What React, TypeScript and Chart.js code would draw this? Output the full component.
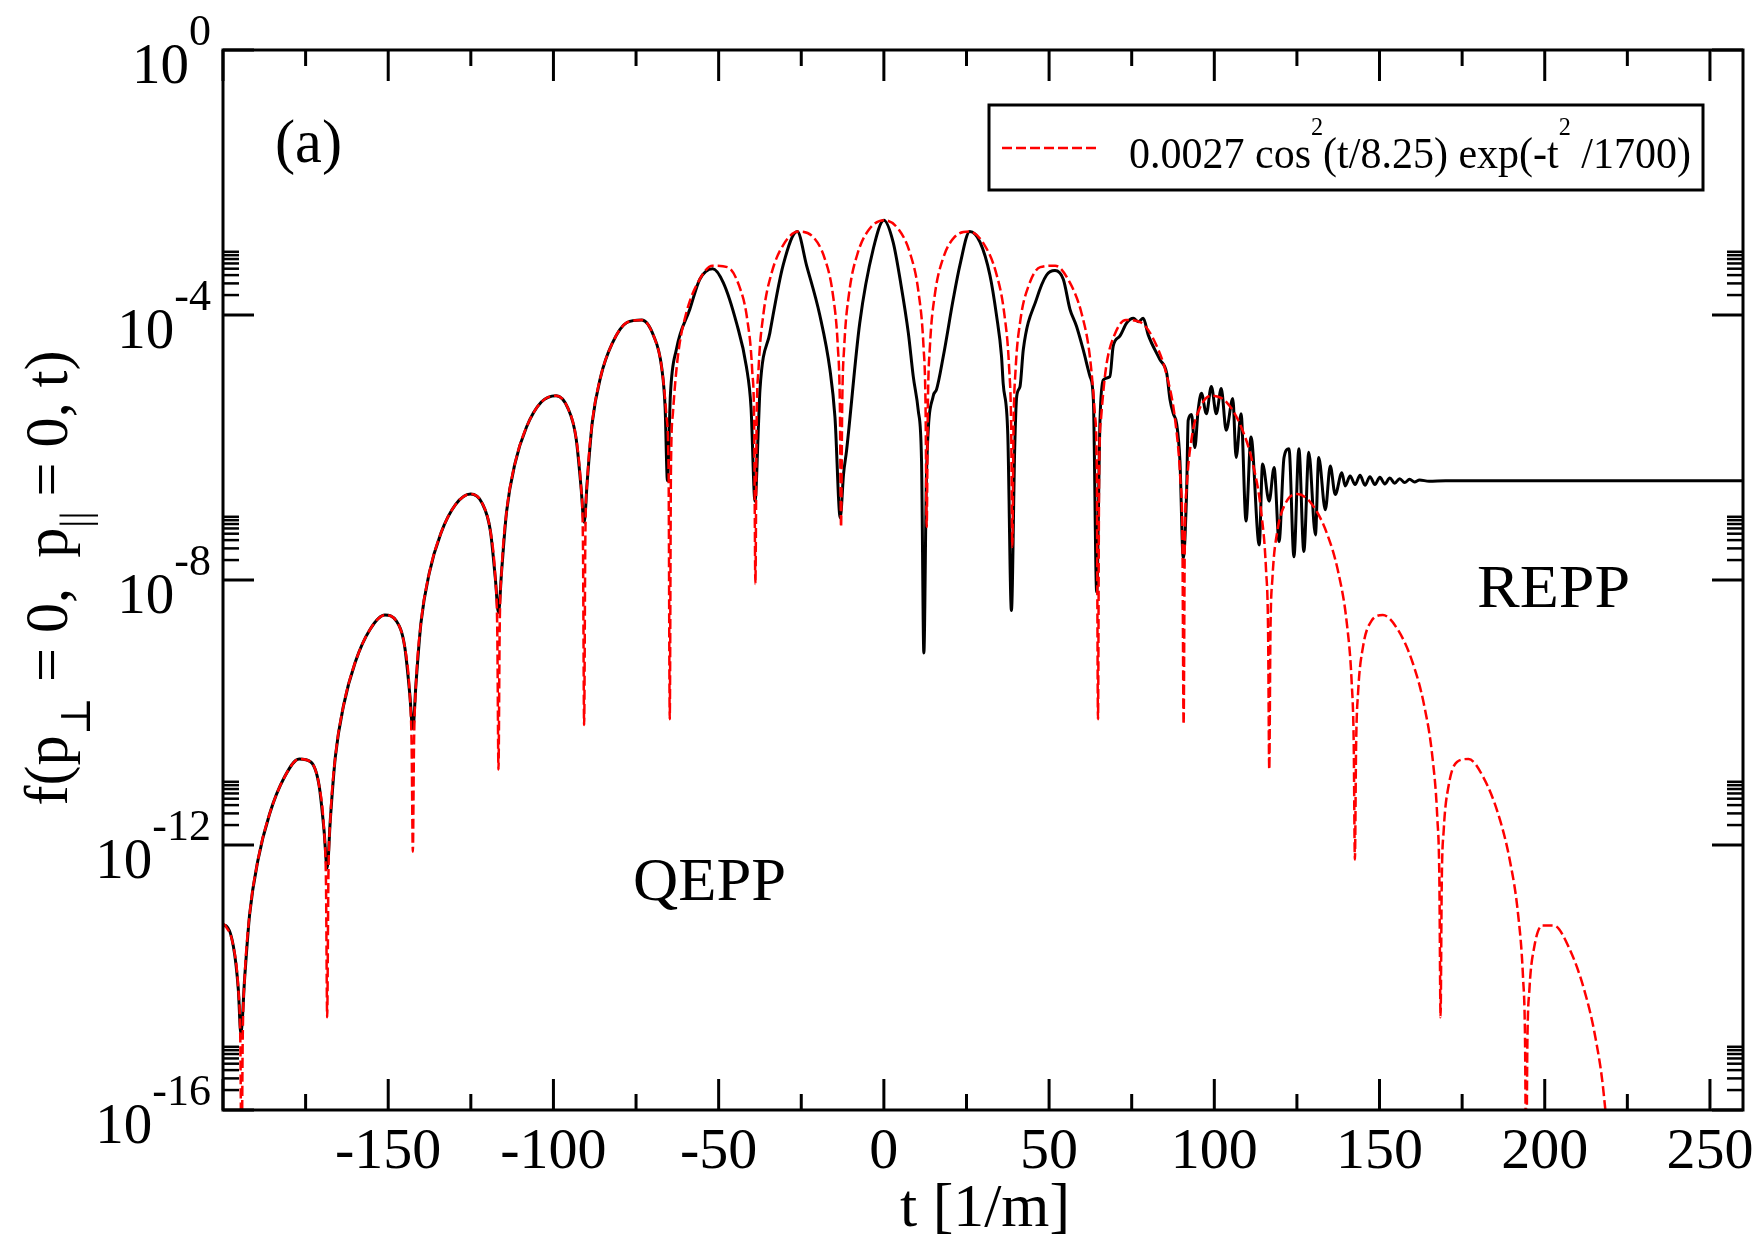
import React, { useEffect, useRef } from 'react';
import { Chart, registerables } from 'chart.js';

Chart.register(...registerables);

// ---- data (t in 1/m, value given as log10 f) ----
// red dashed curve: 0.0027 cos^2(t/8.25) exp(-t^2/1700)
const fitT: number[] = [
  -200, -199.35, -196.85, -195.35, -194.75, -194.39, -194.03, -193.43, -191.93, -189.43,
  -185.93, -181.43, -176.93, -173.43, -170.93, -169.43, -168.83, -168.47, -168.11, -167.51,
  -166.01, -163.51, -160.01, -155.51, -151.01, -147.51, -145.01, -143.51, -142.91, -142.55,
  -142.19, -141.59, -140.09, -137.59, -134.09, -129.59, -125.09, -121.59, -119.09, -117.59,
  -116.99, -116.63, -116.27, -115.67, -114.17, -111.67, -108.17, -103.67, -99.17, -95.67,
  -93.17, -91.67, -91.07, -90.71, -90.35, -89.75, -88.25, -85.75, -82.25, -77.75,
  -73.25, -69.75, -67.25, -65.75, -65.15, -64.8, -64.44, -63.84, -62.34, -59.84,
  -56.34, -51.84, -47.34, -43.84, -41.34, -39.84, -39.24, -38.88, -38.52, -37.92,
  -36.42, -33.92, -30.42, -25.92, -21.42, -17.92, -15.42, -13.92, -13.32, -12.96,
  -12.6, -12, -10.5, -8, -4.5, 0, 4.5, 8, 10.5, 12,
  12.6, 12.96, 13.32, 13.92, 15.42, 17.92, 21.42, 25.92, 30.42, 33.92,
  36.42, 37.92, 38.52, 38.88, 39.24, 39.84, 41.34, 43.84, 47.34, 51.84,
  56.34, 59.84, 62.34, 63.84, 64.44, 64.8, 65.15, 65.75, 67.25, 69.75,
  73.25, 77.75, 82.25, 85.75, 88.25, 89.75, 90.35, 90.71, 91.07, 91.67,
  93.17, 95.67, 99.17, 103.67, 108.17, 111.67, 114.17, 115.67, 116.27, 116.63,
  116.99, 117.59, 119.09, 121.59, 125.09, 129.59, 134.09, 137.59, 140.09, 141.59,
  142.19, 142.55, 142.91, 143.51, 145.01, 147.51, 151.01, 155.51, 160.01, 163.51,
  166.01, 167.51, 168.11, 168.47, 168.83, 169.43, 170.93, 173.43, 176.93, 181.43,
  185.93, 189.43, 191.93, 193.43, 194.03, 194.39, 194.75, 195.35, 196.85, 199.35,
  202.85, 207.35, 211.85, 215.35, 217.85, 219.35, 219.95,
];
const fitLog10: number[] = [
  -13.19, -13.215, -13.533, -14.19, -14.981, -17, -14.909, -13.999, -13.044, -12.23,
  -11.536, -10.978, -10.702, -10.747, -11.098, -11.774, -12.573, -14.6, -12.511, -11.609,
  -10.674, -9.893, -9.245, -8.747, -8.53, -8.621, -9.006, -9.702, -10.509, -12.1,
  -10.457, -9.562, -8.647, -7.899, -7.298, -6.859, -6.702, -6.839, -7.257, -7.973,
  -8.788, -10.86, -8.745, -7.859, -6.964, -6.248, -5.694, -5.314, -5.217, -5.401,
  -5.851, -6.587, -7.41, -10.19, -7.377, -6.498, -5.623, -4.941, -4.433, -4.113,
  -4.075, -4.306, -4.789, -5.545, -6.376, -10.1, -6.352, -5.482, -4.626, -3.977,
  -3.516, -3.255, -3.277, -3.554, -4.07, -4.846, -5.685, -8.06, -5.671, -4.808,
  -3.973, -3.357, -2.941, -2.74, -2.822, -3.145, -3.694, -4.49, -5.337, -7.2,
  -5.332, -4.477, -3.662, -3.079, -2.71, -2.569, -2.71, -3.079, -3.662, -4.477,
  -5.332, -7.2, -5.337, -4.49, -3.694, -3.145, -2.822, -2.74, -2.941, -3.357,
  -3.973, -4.808, -5.671, -7.5, -5.685, -4.846, -4.07, -3.554, -3.277, -3.255,
  -3.516, -3.977, -4.626, -5.482, -6.352, -10.1, -6.376, -5.545, -4.789, -4.306,
  -4.075, -4.113, -4.433, -4.941, -5.623, -6.498, -7.377, -10.18, -7.41, -6.587,
  -5.851, -5.401, -5.217, -5.314, -5.694, -6.248, -6.964, -7.859, -8.745, -10.86,
  -8.788, -7.973, -7.257, -6.839, -6.702, -6.859, -7.298, -7.899, -8.647, -9.562,
  -10.457, -12.22, -10.509, -9.702, -9.006, -8.621, -8.53, -8.747, -9.245, -9.893,
  -10.674, -11.609, -12.511, -14.6, -12.573, -11.774, -11.098, -10.747, -10.702, -10.978,
  -11.536, -12.23, -13.044, -13.999, -14.909, -17, -14.981, -14.19, -13.533, -13.215,
  -13.217, -13.552, -14.17, -14.91, -15.758, -16.732, -17.651,
];

// black solid curve: f(p_perp = 0, p_par = 0, t)
const dataT: number[] = [
  -200, -199.35, -196.85, -195.35, -194.6, -193.43, -191.93, -189.43, -185.93, -181.43,
  -176.93, -173.43, -170.93, -169.43, -168.47, -167.51, -166.01, -163.51, -160.01, -155.51,
  -151.01, -147.51, -145.01, -143.51, -142.55, -141.59, -140.09, -137.59, -134.09, -129.59,
  -125.09, -121.59, -119.09, -117.59, -116.63, -115.67, -114.17, -111.67, -108.17, -103.67,
  -99.17, -95.67, -93.17, -91.67, -90.71, -89.75, -88.25, -85.75, -82.25, -77.75,
  -73.25, -69.75, -67.25, -66.2, -65.5, -64.6, -62.8, -58.7, -55.7, -51.8,
  -48.6, -44.6, -41.6, -40.2, -39, -37.9, -37.5, -34.5, -30.5, -26.2,
  -23.4, -19.4, -16.3, -14.8, -13.2, -12.2, -11.3, -7.3, -3.2, 0,
  2.8, 5.2, 7.4, 8.9, 10.4, 11.4, 12.1, 12.9, 14.9, 15.9,
  18, 21, 23, 26, 29.1, 32.1, 34.1, 35.6, 36.1, 37.5,
  38.6, 39.6, 40.2, 41.2, 42.2, 46.2, 49.2, 51.8, 54.3, 56.3,
  58.3, 60.3, 62.4, 63.4, 64.4, 65.4, 66.4, 68.4, 69.4, 71.4,
  73.5, 75.5, 77, 78.5, 80, 83.5, 85.6, 86.6, 87.6, 88.6,
  89.6, 90.6, 91.6, 92.1, 93.1, 94.1, 95.1, 96.1, 97.6, 99.1,
  100.6, 102.1, 103.6, 105.6, 106.6, 108.1, 109.6, 111.1, 113.6, 114.6,
  116.6, 118.1, 119.6, 121.1, 122.6, 124.1, 125.6, 127.1, 128.6, 130.6,
  131.6, 133.6, 135.1, 136.6, 138.6, 139.6, 141.1, 142.6, 144.1, 145.6,
  147.1, 148.6, 150.1, 151.6, 153.1, 154.6, 156.1, 157.6, 159.1, 160.6,
  162.1, 165, 170, 260,
];
const dataLog10: number[] = [
  -13.22, -13.215, -13.533, -14.19, -14.85, -13.999, -13.044, -12.23, -11.536, -10.978,
  -10.702, -10.747, -11.098, -11.774, -12.35, -11.609, -10.674, -9.893, -9.245, -8.747,
  -8.53, -8.621, -9.006, -9.702, -10.24, -9.562, -8.647, -7.899, -7.298, -6.859,
  -6.702, -6.839, -7.257, -7.973, -8.49, -7.859, -6.964, -6.248, -5.694, -5.314,
  -5.217, -5.401, -5.851, -6.587, -7.13, -6.498, -5.623, -4.941, -4.433, -4.113,
  -4.075, -4.306, -4.789, -5.4, -6.5, -5.2, -4.52, -3.91, -3.46, -3.3,
  -3.51, -4.12, -4.78, -5.4, -6.81, -5.6, -5.13, -4.27, -3.25, -2.74,
  -3.25, -4.0, -4.83, -5.54, -7.06, -6.4, -6.05, -4.12, -3.0, -2.57,
  -2.9, -3.55, -4.27, -4.93, -5.44, -6.2, -9.1, -6.4, -5.23, -5.13,
  -4.62, -3.76, -3.25, -2.74, -2.9, -3.4, -4.01, -4.62, -5.03, -5.8,
  -8.46, -6.0, -5.23, -5.08, -4.52, -3.76, -3.4, -3.33, -3.46, -3.91,
  -4.17, -4.52, -4.93, -5.28, -8.18, -5.6, -4.98, -4.93, -4.47, -4.32,
  -4.12, -4.05, -4.1, -4.05, -4.3, -4.67, -4.88, -5.28, -5.49, -5.64,
  -6.2, -7.67, -6.71, -5.59, -5.5, -6.0, -5.44, -5.18, -5.49, -5.08,
  -5.49, -5.11, -5.74, -5.26, -6.15, -5.49, -7.11, -5.84, -7.47, -6.25,
  -6.81, -6.3, -7.42, -6.15, -6.02, -7.65, -6.02, -7.57, -6.07, -7.32,
  -6.15, -6.94, -6.28, -6.71, -6.38, -6.58, -6.43, -6.56, -6.42, -6.57,
  -6.44, -6.56, -6.45, -6.55, -6.46, -6.54, -6.47, -6.53, -6.48, -6.52,
  -6.49, -6.51, -6.5, -6.5,
];

// axes
const xMin = -200;
const xMax = 260;
const yMin = 1e-16;
const yMax = 1;
const xMajorTicks = [-200, -150, -100, -50, 0, 50, 100, 150, 200, 250];
const xTickLabels = ['', '-150', '-100', '-50', '0', '50', '100', '150', '200', '250'];
const xMinorTicks = [-175, -125, -75, -25, 25, 75, 125, 175, 225];
const yMajorExponents = [0, -4, -8, -12, -16];
const yMinorExponents = [-4, -8, -12, -16];
const yMinorMantissas = [2, 3, 4, 5, 6, 7, 8, 9];

const FONT = "'Liberation Serif', 'Times New Roman', 'DejaVu Serif', serif";

type Seg = { t: string; size: number; dy: number };

function drawRich(
  ctx: CanvasRenderingContext2D,
  segs: Seg[],
  x: number,
  y: number,
  align: 'left' | 'center' | 'right',
  target?: number
) {
  const widths = segs.map((s) => {
    ctx.font = `${s.size}px ${FONT}`;
    return ctx.measureText(s.t).width;
  });
  const total = widths.reduce((a, b) => a + b, 0);
  const sx = target ? target / total : 1;
  const w = total * sx;
  const x0 = align === 'left' ? x : align === 'center' ? x - w / 2 : x - w;
  ctx.save();
  ctx.translate(x0, y);
  ctx.scale(sx, 1);
  ctx.textAlign = 'left';
  ctx.textBaseline = 'alphabetic';
  let cx = 0;
  segs.forEach((s, i) => {
    ctx.font = `${s.size}px ${FONT}`;
    ctx.fillText(s.t, cx, s.dy);
    cx += widths[i];
  });
  ctx.restore();
}

const decorPlugin = {
  id: 'decor',
  afterDraw(chart: any) {
    const { ctx, chartArea: a, scales } = chart;
    const xs = scales.x;
    const ys = scales.y;
    ctx.save();
    ctx.strokeStyle = '#000';
    ctx.fillStyle = '#000';
    ctx.lineCap = 'butt';
    ctx.setLineDash([]);
    const seg = (x1: number, y1: number, x2: number, y2: number, lw = 3) => {
      ctx.lineWidth = lw;
      ctx.beginPath();
      ctx.moveTo(x1, y1);
      ctx.lineTo(x2, y2);
      ctx.stroke();
    };
    const MAJ = 31;
    const MIN = 16;
    // x ticks (bottom and top, inward)
    xMajorTicks.forEach((v) => {
      const px = xs.getPixelForValue(v);
      seg(px, a.bottom, px, a.bottom - MAJ);
      seg(px, a.top, px, a.top + MAJ);
    });
    xMinorTicks.forEach((v) => {
      const px = xs.getPixelForValue(v);
      seg(px, a.bottom, px, a.bottom - MIN);
      seg(px, a.top, px, a.top + MIN);
    });
    // y ticks (left and right, inward)
    yMajorExponents.forEach((e) => {
      const py = ys.getPixelForValue(Math.pow(10, e));
      seg(a.left, py, a.left + MAJ, py);
      seg(a.right, py, a.right - MAJ, py);
    });
    yMinorExponents.forEach((e) => {
      yMinorMantissas.forEach((m) => {
        const py = ys.getPixelForValue(m * Math.pow(10, e));
        seg(a.left, py, a.left + MIN, py, 2.5);
        seg(a.right, py, a.right - MIN, py, 2.5);
      });
    });
    // frame
    ctx.lineWidth = 3;
    ctx.strokeRect(a.left, a.top, a.right - a.left, a.bottom - a.top);

    // x tick labels
    xMajorTicks.forEach((v, i) => {
      if (!xTickLabels[i]) return;
      const px = xs.getPixelForValue(v);
      drawRich(ctx, [{ t: xTickLabels[i], size: 58, dy: 0 }], px, a.bottom + 58, 'center');
    });
    // y tick labels
    yMajorExponents.forEach((e) => {
      const py = ys.getPixelForValue(Math.pow(10, e));
      drawRich(
        ctx,
        [
          { t: '10', size: 57, dy: 33 },
          { t: String(e), size: 44, dy: -5 },
        ],
        a.left - 12,
        py,
        'right'
      );
    });
    // axis titles
    drawRich(ctx, [{ t: 't [1/m]', size: 62, dy: 0 }], (a.left + a.right) / 2 + 2, 1226, 'center', 170);
    ctx.save();
    ctx.translate(67, (a.top + a.bottom) / 2 - 2);
    ctx.rotate(-Math.PI / 2);
    drawRich(
      ctx,
      [
        { t: 'f(p', size: 62, dy: 0 },
        { t: '\u22A5', size: 42, dy: 23 },
        { t: ' = 0,  p', size: 62, dy: 0 },
        { t: '||', size: 42, dy: 22 },
        { t: ' = 0, t)', size: 62, dy: 0 },
      ],
      0,
      0,
      'center',
      455
    );
    ctx.restore();

    // annotations
    drawRich(ctx, [{ t: '(a)', size: 62, dy: 0 }], 275, 162, 'left', 67);
    drawRich(ctx, [{ t: 'QEPP', size: 62, dy: 0 }], 633, 900, 'left', 153);
    drawRich(ctx, [{ t: 'REPP', size: 62, dy: 0 }], 1477, 607, 'left', 153);

    // legend
    const lx = 989;
    const ly = 105;
    const lw = 714;
    const lh = 85;
    ctx.fillStyle = '#fff';
    ctx.fillRect(lx, ly, lw, lh);
    ctx.fillStyle = '#000';
    ctx.lineWidth = 3;
    ctx.strokeRect(lx, ly, lw, lh);
    ctx.strokeStyle = '#ff0000';
    ctx.lineWidth = 2.5;
    ctx.setLineDash([10, 4]);
    ctx.beginPath();
    ctx.moveTo(1002, 148);
    ctx.lineTo(1098, 148);
    ctx.stroke();
    ctx.setLineDash([]);
    drawRich(
      ctx,
      [
        { t: '0.0027 cos', size: 45, dy: 0 },
        { t: '2', size: 26, dy: -33 },
        { t: '(t/8.25) exp(-t', size: 45, dy: 0 },
        { t: '2', size: 26, dy: -33 },
        { t: ' /1700)', size: 45, dy: 0 },
      ],
      1129,
      168,
      'left',
      562
    );
    ctx.restore();
  },
};

export default function App() {
  const ref = useRef<HTMLCanvasElement>(null);
  useEffect(() => {
    const canvas = ref.current;
    if (!canvas) return;
    const fitPoints = fitT.map((t, i) => ({ x: t, y: Math.pow(10, fitLog10[i]) }));
    const dataPoints = dataT.map((t, i) => ({ x: t, y: Math.pow(10, dataLog10[i]) }));
    const chart = new Chart(canvas, {
      type: 'line',
      data: {
        datasets: [
          {
            label: '0.0027 cos^2(t/8.25) exp(-t^2/1700)',
            data: fitPoints,
            borderColor: '#ff0000',
            borderWidth: 2.5,
            borderDash: [10, 4],
            pointRadius: 0,
            fill: false,
            cubicInterpolationMode: 'monotone',
          },
          {
            label: 'f(p_perp = 0, p_par = 0, t)',
            data: dataPoints,
            borderColor: '#000000',
            borderWidth: 3,
            pointRadius: 0,
            fill: false,
            cubicInterpolationMode: 'monotone',
          },
        ],
      },
      options: {
        responsive: false,
        animation: false,
        devicePixelRatio: 1,
        layout: { padding: { left: 223, top: 50, right: 19, bottom: 126 } },
        plugins: { legend: { display: false }, tooltip: { enabled: false } },
        scales: {
          x: { type: 'linear', min: xMin, max: xMax, display: false },
          y: { type: 'logarithmic', min: yMin, max: yMax, display: false },
        },
      },
      plugins: [decorPlugin],
    } as any);
    return () => chart.destroy();
  }, []);
  return (
    <div style={{ position: 'absolute', left: 0, top: 0, width: 1762, height: 1236, background: '#fff' }}>
      <canvas ref={ref} width={1762} height={1236} style={{ display: 'block', width: 1762, height: 1236 }} />
    </div>
  );
}
